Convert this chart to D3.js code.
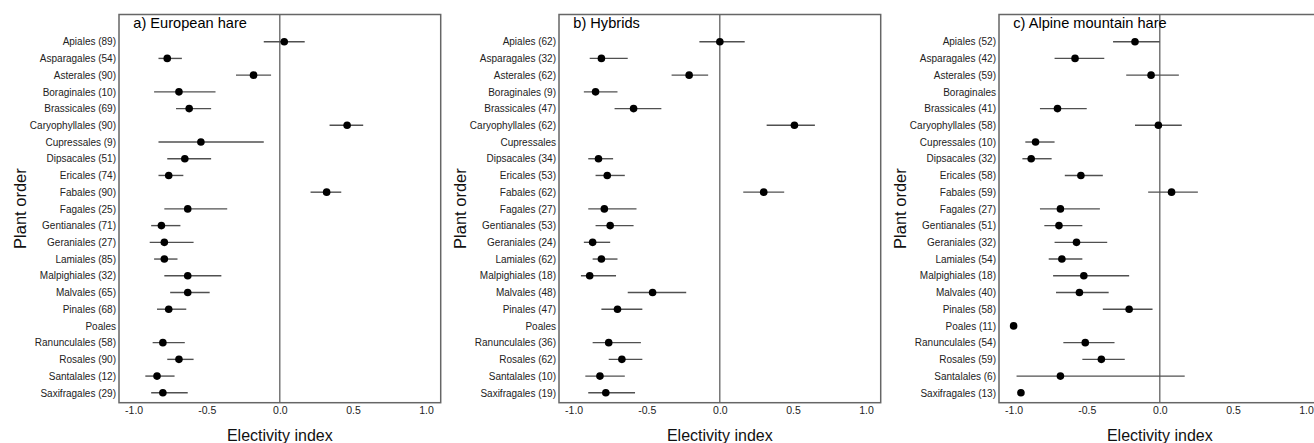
<!DOCTYPE html>
<html>
<head>
<meta charset="utf-8">
<script src="https://cdn.jsdelivr.net/npm/d3@7"></script>
<style>
  body { margin: 0; background: #fff; }
  svg { display: block; font-family: "Liberation Sans", Arial, sans-serif; }
</style>
</head>
<body>
<div id="chart"></div>
<script>
// plant orders, same on every panel
const orders = ['Apiales', 'Asparagales', 'Asterales', 'Boraginales', 'Brassicales',
  'Caryophyllales', 'Cupressales', 'Dipsacales', 'Ericales', 'Fabales', 'Fagales',
  'Gentianales', 'Geraniales', 'Lamiales', 'Malpighiales', 'Malvales', 'Pinales',
  'Poales', 'Ranunculales', 'Rosales', 'Santalales', 'Saxifragales']

const xTicks = [-1, -0.5, 0, 0.5, 1]

// a) European hare
const hareN = [89, 54, 90, 10, 69, 90, 9, 51, 74, 90, 25, 71, 27, 85, 32, 65, 68, null, 58, 90, 12, 29]
const hareEst = [0.03, -0.77, -0.18, -0.69, -0.62, 0.46, -0.54, -0.65, -0.76, 0.32, -0.63, -0.81,
  -0.79, -0.79, -0.63, -0.63, -0.76, null, -0.80, -0.69, -0.84, -0.80]
const hareLo = [-0.11, -0.83, -0.30, -0.86, -0.71, 0.34, -0.83, -0.77, -0.83, 0.21, -0.79, -0.88,
  -0.89, -0.86, -0.79, -0.75, -0.84, null, -0.87, -0.77, -0.92, -0.88]
const hareHi = [0.17, -0.67, -0.06, -0.44, -0.47, 0.57, -0.11, -0.47, -0.66, 0.42, -0.36, -0.68,
  -0.59, -0.70, -0.40, -0.48, -0.64, null, -0.65, -0.59, -0.72, -0.63]

// b) Hybrids
const hybN = [62, 32, 62, 9, 47, 62, null, 34, 53, 62, 27, 53, 24, 62, 18, 48, 47, null, 36, 62, 10, 19]
const hybEst = [0.0, -0.81, -0.21, -0.85, -0.59, 0.51, null, -0.83, -0.77, 0.30, -0.79, -0.75,
  -0.87, -0.81, -0.89, -0.46, -0.70, null, -0.76, -0.67, -0.82, -0.78]
const hybLo = [-0.14, -0.89, -0.33, -0.93, -0.72, 0.32, null, -0.90, -0.85, 0.16, -0.90, -0.85,
  -0.93, -0.87, -0.95, -0.63, -0.81, null, -0.87, -0.76, -0.92, -0.90]
const hybHi = [0.17, -0.63, -0.08, -0.70, -0.40, 0.65, null, -0.73, -0.65, 0.44, -0.57, -0.59,
  -0.75, -0.70, -0.71, -0.23, -0.53, null, -0.54, -0.53, -0.65, -0.58]

// c) Alpine mountain hare
const mtnN = [52, 42, 59, null, 41, 58, 10, 32, 58, 59, 27, 51, 32, 54, 18, 40, 58, 11, 54, 59, 6, 13]
const mtnEst = [-0.17, -0.58, -0.06, null, -0.70, -0.01, -0.85, -0.88, -0.54, 0.08, -0.68, -0.69,
  -0.57, -0.67, -0.52, -0.55, -0.21, -1.0, -0.51, -0.40, -0.68, -0.95]
const mtnLo = [-0.32, -0.72, -0.23, null, -0.82, -0.17, -0.92, -0.94, -0.65, -0.08, -0.82, -0.79,
  -0.72, -0.76, -0.73, -0.71, -0.39, null, -0.66, -0.53, -0.98, null]
const mtnHi = [0.0, -0.38, 0.13, null, -0.50, 0.15, -0.72, -0.74, -0.39, 0.26, -0.41, -0.53,
  -0.36, -0.53, -0.21, -0.35, -0.05, null, -0.31, -0.24, 0.17, null]

const panels = [
  { title: 'a) European hare', n: hareN, est: hareEst, lo: hareLo, hi: hareHi },
  { title: 'b) Hybrids', n: hybN, est: hybEst, lo: hybLo, hi: hybHi },
  { title: 'c) Alpine mountain hare', n: mtnN, est: mtnEst, lo: mtnLo, hi: mtnHi }
]

const width = 1314
const height = 443
const panelW = 440
const plot = { left: 119, right: 440.7, top: 14.5, bottom: 402.7 }

const svg = d3.select('#chart').append('svg')
  .attr('width', width)
  .attr('height', height)

panels.forEach((p, i) => {
  const g = svg.append('g')
    .attr('transform', 'translate(' + (i * panelW) + ',0)')

  const x = d3.scaleLinear()
    .domain([-1.1, 1.1])
    .range([plot.left, plot.right])
  const y = d3.scalePoint()
    .domain(orders)
    .range([41.7, 392.8])

  // zero line
  g.append('line')
    .attr('x1', x(0)).attr('x2', x(0))
    .attr('y1', plot.top).attr('y2', plot.bottom)
    .attr('stroke', '#333')
    .attr('stroke-width', 1)

  // error bars and points
  const rows = orders.map((o, k) => ({
    order: o, est: p.est[k], lo: p.lo[k], hi: p.hi[k]
  }))

  g.selectAll('.err')
    .data(rows.filter(d => d.lo !== null))
    .enter().append('line')
    .attr('class', 'err')
    .attr('x1', d => x(d.lo)).attr('x2', d => x(d.hi))
    .attr('y1', d => y(d.order)).attr('y2', d => y(d.order))
    .attr('stroke', '#505050')
    .attr('stroke-width', 1.4)

  g.selectAll('.pt')
    .data(rows.filter(d => d.est !== null))
    .enter().append('circle')
    .attr('class', 'pt')
    .attr('cx', d => x(d.est))
    .attr('cy', d => y(d.order))
    .attr('r', 3.8)
    .attr('fill', '#000')

  // frame
  g.append('rect')
    .attr('x', plot.left).attr('y', plot.top)
    .attr('width', plot.right - plot.left)
    .attr('height', plot.bottom - plot.top)
    .attr('fill', 'none')
    .attr('stroke', '#666')
    .attr('stroke-width', 1.5)

  // y axis labels
  const yAxis = d3.axisLeft(y)
    .tickSize(0)
    .tickPadding(3)
    .tickFormat((o, k) => p.n[k] === null ? o : o + ' (' + p.n[k] + ')')
  const ya = g.append('g')
    .attr('transform', 'translate(' + plot.left + ',0)')
    .call(yAxis)
  ya.select('.domain').remove()
  ya.selectAll('text')
    .attr('font-family', '"Liberation Sans", Arial, sans-serif')
    .attr('font-size', 10)
    .attr('fill', '#222')

  // x axis labels
  const xAxis = d3.axisBottom(x)
    .tickValues(xTicks)
    .tickSize(0)
    .tickPadding(4)
    .tickFormat(v => d3.format('.1f')(v).replace('\u2212', '-'))
  const xa = g.append('g')
    .attr('transform', 'translate(0,' + plot.bottom + ')')
    .call(xAxis)
  xa.select('.domain').remove()
  xa.selectAll('text')
    .attr('font-family', '"Liberation Sans", Arial, sans-serif')
    .attr('font-size', 10.5)
    .attr('fill', '#222')

  // titles
  g.append('text')
    .attr('x', 133.3)
    .attr('y', 28)
    .attr('font-size', 14.6)
    .attr('fill', '#000')
    .text(p.title)

  g.append('text')
    .attr('x', x(0))
    .attr('y', 441)
    .attr('text-anchor', 'middle')
    .attr('font-size', 16)
    .attr('fill', '#111')
    .text('Electivity index')

  g.append('text')
    .attr('transform', 'translate(26,' + ((plot.top + plot.bottom) / 2) + ') rotate(-90)')
    .attr('text-anchor', 'middle')
    .attr('font-size', 16.5)
    .attr('fill', '#111')
    .text('Plant order')
})
</script>
</body>
</html>
